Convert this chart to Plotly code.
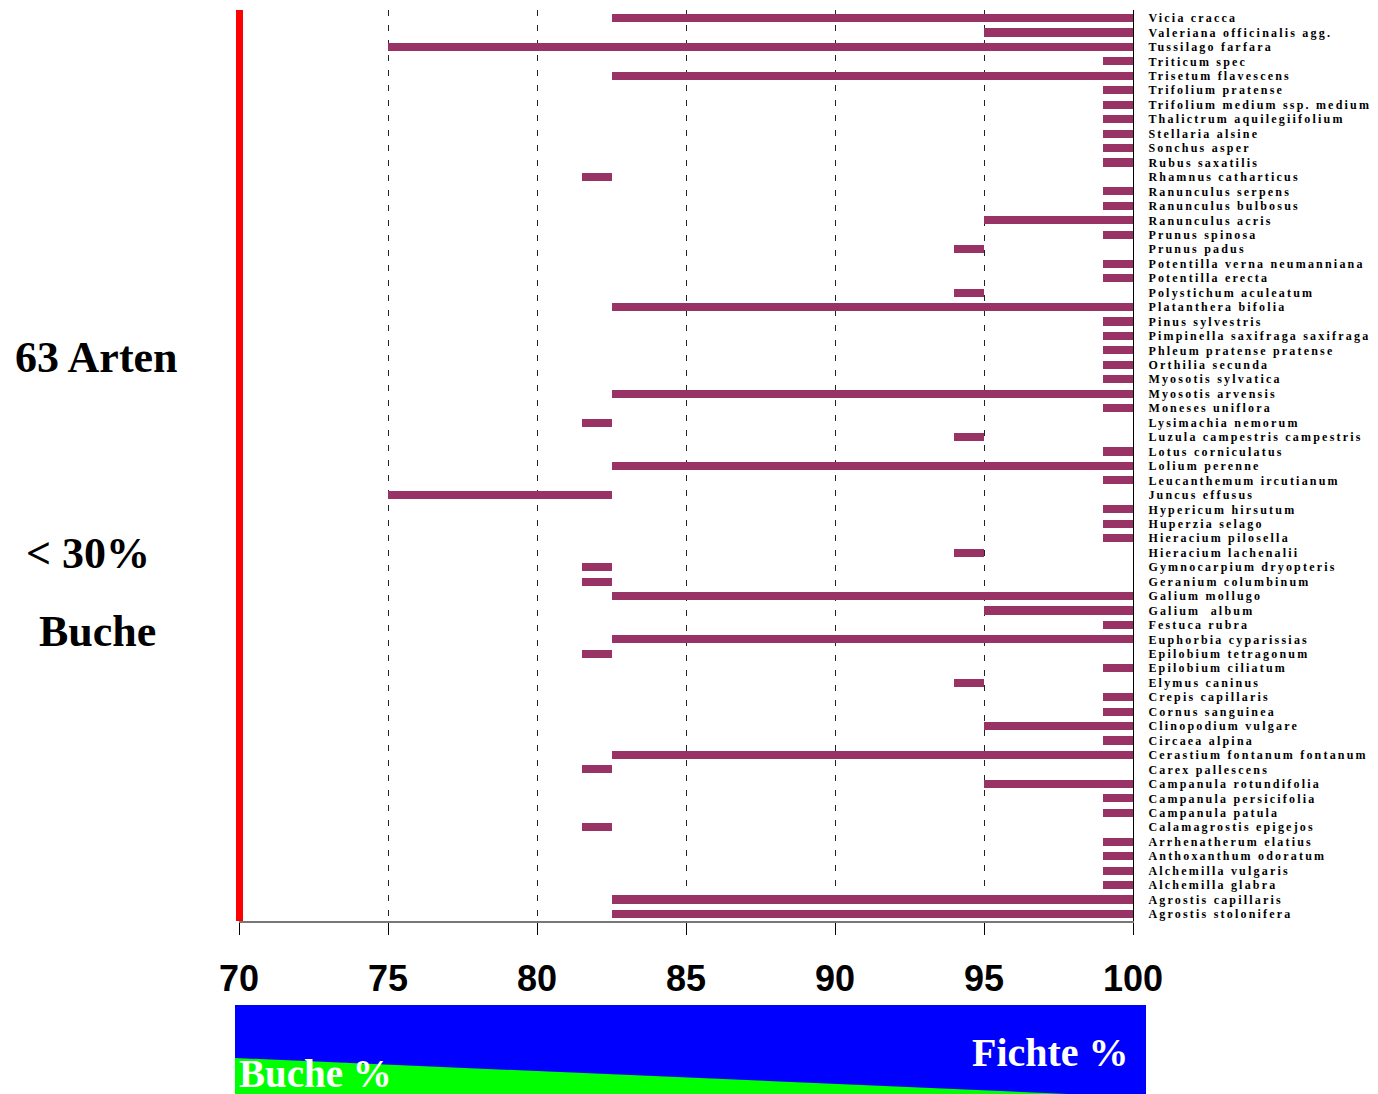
import plotly.graph_objects as go

species = [
    "Vicia cracca", "Valeriana officinalis agg.", "Tussilago farfara", "Triticum spec",
    "Trisetum flavescens", "Trifolium pratense", "Trifolium medium ssp. medium",
    "Thalictrum aquilegiifolium", "Stellaria alsine", "Sonchus asper", "Rubus saxatilis",
    "Rhamnus catharticus", "Ranunculus serpens", "Ranunculus bulbosus", "Ranunculus acris",
    "Prunus spinosa", "Prunus padus", "Potentilla verna neumanniana", "Potentilla erecta",
    "Polystichum aculeatum", "Platanthera bifolia", "Pinus sylvestris",
    "Pimpinella saxifraga saxifraga", "Phleum pratense pratense", "Orthilia secunda",
    "Myosotis sylvatica", "Myosotis arvensis", "Moneses uniflora", "Lysimachia nemorum",
    "Luzula campestris campestris", "Lotus corniculatus", "Lolium perenne",
    "Leucanthemum ircutianum", "Juncus effusus", "Hypericum hirsutum", "Huperzia selago",
    "Hieracium pilosella", "Hieracium lachenalii", "Gymnocarpium dryopteris",
    "Geranium columbinum", "Galium mollugo", "Galium  album", "Festuca rubra",
    "Euphorbia cyparissias", "Epilobium tetragonum", "Epilobium ciliatum", "Elymus caninus",
    "Crepis capillaris", "Cornus sanguinea", "Clinopodium vulgare", "Circaea alpina",
    "Cerastium fontanum fontanum", "Carex pallescens", "Campanula rotundifolia",
    "Campanula persicifolia", "Campanula patula", "Calamagrostis epigejos",
    "Arrhenatherum elatius", "Anthoxanthum odoratum", "Alchemilla vulgaris",
    "Alchemilla glabra", "Agrostis capillaris", "Agrostis stolonifera",
]

start = [
    82.5, 95, 75, 99, 82.5, 99, 99, 99, 99, 99, 99,
    81.5, 99, 99, 95, 99, 94, 99, 99, 94, 82.5, 99,
    99, 99, 99, 99, 82.5, 99, 81.5, 94, 99, 82.5,
    99, 75, 99, 99, 99, 94, 81.5, 81.5, 82.5, 95, 99,
    82.5, 81.5, 99, 94, 99, 99, 95, 99, 82.5, 81.5, 95,
    99, 99, 81.5, 99, 99, 99, 99, 82.5, 82.5,
]

end = [
    100, 100, 100, 100, 100, 100, 100, 100, 100, 100, 100,
    82.5, 100, 100, 100, 100, 95, 100, 100, 95, 100, 100,
    100, 100, 100, 100, 100, 100, 82.5, 95, 100, 100,
    100, 82.5, 100, 100, 100, 95, 82.5, 82.5, 100, 100, 100,
    100, 82.5, 100, 95, 100, 100, 100, 100, 100, 82.5, 100,
    100, 100, 82.5, 100, 100, 100, 100, 100, 100,
]

x_ticks = [70, 75, 80, 85, 90, 95, 100]
x_ticklabels = ["70", "75", "80", "85", "90", "95", "100"]

W, H = 1378, 1094
OFF = 8  # page body margin offset
L, R, T, B = 239 - OFF, 1133 - OFF, 10 - OFF, 921 - OFF


def xp(px):
    return (px - OFF - L) / (R - L)


def yp(py):
    return (B - (py - OFF)) / (B - T)


fig = go.Figure()
fig.add_trace(go.Bar(
    y=list(range(len(species))),
    x=[e - s for s, e in zip(start, end)],
    base=start,
    orientation="h",
    marker=dict(color="#993366", line=dict(width=0)),
    width=0.56,
    hoverinfo="skip",
))

shapes = [
    dict(type="line", xref="paper", yref="paper", x0=xp(239.5), x1=xp(239.5), y0=0, y1=1,
         line=dict(color="#ff0000", width=7), layer="above"),
    dict(type="rect", xref="paper", yref="paper",
         x0=xp(235), x1=xp(1146), y0=yp(1005), y1=yp(1110),
         fillcolor="#0000ff", line=dict(width=0), layer="above"),
    dict(type="path", xref="paper", yref="paper",
         path=f"M {xp(235)},{yp(1058)} L {xp(1068)},{yp(1094)} L {xp(1146)},{yp(1097.4)} "
              f"L {xp(1146)},{yp(1110)} L {xp(235)},{yp(1110)} Z",
         fillcolor="#00ff00", line=dict(width=0), layer="above"),
]

annotations = [
    dict(text="<b>63 Arten</b>", x=xp(96), y=yp(357), xref="paper", yref="paper",
         xanchor="center", yanchor="middle", showarrow=False,
         font=dict(family="Liberation Serif", size=44, color="black")),
    dict(text="<b>&lt; 30%</b>", x=xp(88), y=yp(553), xref="paper", yref="paper",
         xanchor="center", yanchor="middle", showarrow=False,
         font=dict(family="Liberation Serif", size=44, color="black")),
    dict(text="<b>Buche</b>", x=xp(97), y=yp(632), xref="paper", yref="paper",
         xanchor="center", yanchor="middle", showarrow=False,
         font=dict(family="Liberation Serif", size=44, color="black")),
    dict(text="<b>Fichte %</b>", x=xp(1131), y=yp(1052), xref="paper", yref="paper",
         xanchor="right", yanchor="middle", showarrow=False,
         font=dict(family="Liberation Serif", size=40, color="white")),
    dict(text="<b>Buche %</b>", x=xp(237), y=yp(1073), xref="paper", yref="paper",
         xanchor="left", yanchor="middle", showarrow=False,
         font=dict(family="Liberation Serif", size=39, color="white")),
]

fig.update_layout(
    width=W, height=H,
    margin=dict(l=L, r=W - R, t=T, b=H - B, pad=0),
    plot_bgcolor="white", paper_bgcolor="white",
    showlegend=False,
    shapes=shapes,
    annotations=annotations,
    bargap=0,
    xaxis=dict(
        range=[70, 100], tickvals=x_ticks, ticktext=x_ticklabels,
        showgrid=True, gridcolor="#222", gridwidth=1, griddash="6px,9px",
        zeroline=False,
        showline=True, linecolor="#777", linewidth=2,
        ticks="outside", ticklen=12, tickcolor="black", tickwidth=1,
        ticklabelstandoff=13,
        tickfont=dict(family="Liberation Sans", size=36, color="black", weight="bold"),
        fixedrange=True,
    ),
    yaxis=dict(
        range=[62.49, -0.554],
        tickvals=list(range(len(species))), ticktext=species,
        side="right", showgrid=False, zeroline=False,
        showline=True, linecolor="black", linewidth=1,
        ticks="", ticklabelstandoff=12,
        tickfont=dict(family="Liberation Serif", size=12, color="black", weight="bold"),
        fixedrange=True,
    ),
)

post = ("var gd=document.getElementById('{plot_id}');"
        "gd.querySelectorAll('.ytick text').forEach(function(t){"
        "t.setAttribute('letter-spacing','2.2px');});")

fig.write_html("out.html", post_script=post)
